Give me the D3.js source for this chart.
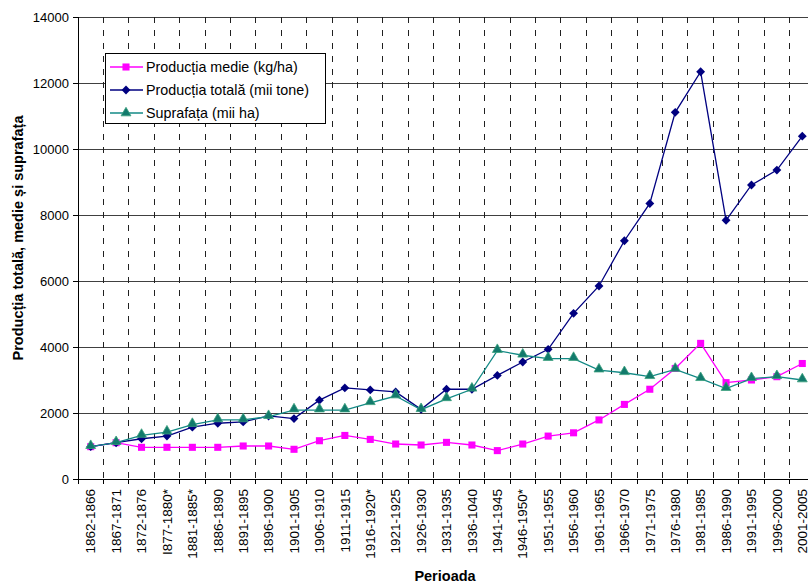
<!DOCTYPE html>
<html>
<head>
<meta charset="utf-8">
<script src="https://cdn.jsdelivr.net/npm/d3@7"></script>
<style>
  body { margin: 0; background: #fff; }
  text { font-family: "Liberation Sans", Arial, sans-serif; }
</style>
</head>
<body>
<div id="chart"></div>
<script>
// Chart Data
const periods = ["1862-1866", "1867-1871", "1872-1876", "I877-1880*", "1881-1885*", "1886-1890", "1891-1895",
  "1896-1900", "1901-1905", "1906-1910", "1911-1915", "1916-1920*", "1921-1925", "1926-1930", "1931-1935",
  "1936-1040", "1941-1945", "1946-1950*", "1951-1955", "1956-1960", "1961-1965", "1966-1970", "1971-1975",
  "1976-1980", "1981-1985", "1986-1990", "1991-1995", "1996-2000", "2001-2005"];
const productiaMedie = [980, 1100, 960, 960, 960, 960, 1000, 1000, 900, 1160, 1320, 1200, 1060, 1030, 1110,
  1030, 860, 1060, 1300, 1400, 1790, 2260, 2720, 3350, 4110, 2920, 3000, 3100, 3500];
const productiaTotala = [980, 1100, 1220, 1300, 1570, 1690, 1730, 1910, 1830, 2390, 2760, 2700, 2640, 2110, 2720,
  2720, 3140, 3545, 3930, 5020, 5850, 7220, 8350, 11110, 12340, 7840, 8910, 9360, 10390];
const suprafata = [980, 1100, 1320, 1420, 1650, 1790, 1790, 1890, 2090, 2090, 2090, 2310, 2515, 2100, 2430,
  2720, 3890, 3750, 3650, 3650, 3300, 3220, 3100, 3320, 3040, 2740, 3040, 3100, 3000];
const yTicks = [0, 2000, 4000, 6000, 8000, 10000, 12000, 14000];

// Dimensions
let w = 808, h = 585;
let plotLeft = 78, plotRight = 815, plotTop = 17, plotBottom = 479;

let svg = d3.select("#chart").append("svg").attr("width", w).attr("height", h);

// Scales
let xBand = d3.scaleBand().domain(periods).range([plotLeft, plotRight]).paddingInner(0).paddingOuter(0);
let x = (d) => xBand(d) + xBand.bandwidth() / 2;
let y = d3.scaleLinear().domain([0, 14000]).range([plotBottom, plotTop]);

// Horizontal Gridlines
svg.append("g").selectAll("line").data(yTicks.slice(1)).join("line")
  .attr("x1", plotLeft).attr("x2", w).attr("y1", (d) => y(d)).attr("y2", (d) => y(d))
  .attr("stroke", "#404040").attr("stroke-width", 1).attr("shape-rendering", "crispEdges");

// Vertical Dashed Gridlines At Category Boundaries
svg.append("g").selectAll("line").data(periods.slice(1)).join("line")
  .attr("x1", (d) => xBand(d)).attr("x2", (d) => xBand(d)).attr("y1", plotTop).attr("y2", plotBottom)
  .attr("stroke", "#202020").attr("stroke-width", 1).attr("stroke-dasharray", "6,7")
  .attr("shape-rendering", "crispEdges");

// Axes
let yAxis = d3.axisLeft(y).tickValues(yTicks).tickSize(5).tickPadding(4).tickFormat(d3.format("d"));
let yG = svg.append("g").attr("transform", "translate(" + plotLeft + ",0)").call(yAxis);
yG.select(".domain").attr("stroke", "#000").attr("shape-rendering", "crispEdges");
yG.selectAll(".tick line").attr("stroke", "#000").attr("shape-rendering", "crispEdges");
yG.selectAll("text").attr("font-size", 13).attr("fill", "#000");

let xAxis = d3.axisBottom(xBand).tickSize(0).tickPadding(0);
let xG = svg.append("g").attr("transform", "translate(0," + plotBottom + ")").call(xAxis);
xG.select(".domain").attr("stroke", "#000").attr("shape-rendering", "crispEdges");
xG.selectAll("text").attr("font-size", 13.5).attr("fill", "#000")
  .attr("text-anchor", "end").attr("transform", "rotate(-90)")
  .attr("x", -10).attr("y", 0).attr("dy", "0.35em");
// Boundary tick marks below x-axis
svg.append("g").selectAll("line").data(periods).join("line")
  .attr("x1", (d) => xBand(d)).attr("x2", (d) => xBand(d)).attr("y1", plotBottom).attr("y2", plotBottom + 5)
  .attr("stroke", "#000").attr("shape-rendering", "crispEdges");

// Series Definitions
let medieColor = "#ff00ff", totalaColor = "#000080", supraLine = "#138a86", supraFill = "#127a6c", supraStroke = "#3aa07c";

function drawLine(values, color) {
  let line = d3.line().x((d, i) => x(periods[i])).y((d) => y(d));
  svg.append("path").datum(values).attr("d", line).attr("fill", "none").attr("stroke", color).attr("stroke-width", 1.3);
}

let square = d3.symbol().type(d3.symbolSquare).size(50);
let diamond = d3.symbol().type(d3.symbolDiamond2).size(50);
let triangle = d3.symbol().type(d3.symbolTriangle2).size(70);

// Producția medie
drawLine(productiaMedie, medieColor);
svg.append("g").selectAll("path").data(productiaMedie).join("path")
  .attr("d", square).attr("transform", (d, i) => "translate(" + x(periods[i]) + "," + y(d) + ")")
  .attr("fill", medieColor);

// Producția totală
drawLine(productiaTotala, totalaColor);
svg.append("g").selectAll("path").data(productiaTotala).join("path")
  .attr("d", diamond).attr("transform", (d, i) => "translate(" + x(periods[i]) + "," + y(d) + ")")
  .attr("fill", totalaColor);

// Suprafața
drawLine(suprafata, supraLine);
svg.append("g").selectAll("path").data(suprafata).join("path")
  .attr("d", triangle).attr("transform", (d, i) => "translate(" + x(periods[i]) + "," + (y(d) - 1) + ")")
  .attr("fill", supraFill).attr("stroke", supraStroke).attr("stroke-width", 0.8);

// Legend
let legend = svg.append("g");
legend.append("rect").attr("x", 105.5).attr("y", 53.5).attr("width", 220).attr("height", 70)
  .attr("fill", "#fff").attr("stroke", "#000").attr("stroke-width", 1);
let legendItems = [
  { label: "Producția medie (kg/ha)", color: medieColor, sym: square, fill: medieColor, stroke: "none" },
  { label: "Producția totală (mii tone)", color: totalaColor, sym: diamond, fill: totalaColor, stroke: "none" },
  { label: "Suprafața (mii ha)", color: supraLine, sym: triangle, fill: supraFill, stroke: supraStroke }
];
legendItems.forEach((item, i) => {
  let ly = 67 + i * 23;
  legend.append("line").attr("x1", 110).attr("x2", 143).attr("y1", ly).attr("y2", ly)
    .attr("stroke", item.color).attr("stroke-width", 1.3);
  legend.append("path").attr("d", item.sym).attr("transform", "translate(126," + ly + ")")
    .attr("fill", item.fill).attr("stroke", item.stroke).attr("stroke-width", 0.8);
  legend.append("text").attr("x", 146).attr("y", ly).attr("dy", "0.35em")
    .attr("font-size", 14.3).text(item.label);
});

// Axis Titles
svg.append("text").attr("x", 445).attr("y", 581).attr("text-anchor", "middle")
  .attr("font-size", 14.5).attr("font-weight", "bold").text("Perioada");
svg.append("text").attr("transform", "translate(23,238) rotate(-90)").attr("text-anchor", "middle")
  .attr("font-size", 14.5).attr("font-weight", "bold").text("Producția totală, medie și suprafața");
</script>
</body>
</html>
